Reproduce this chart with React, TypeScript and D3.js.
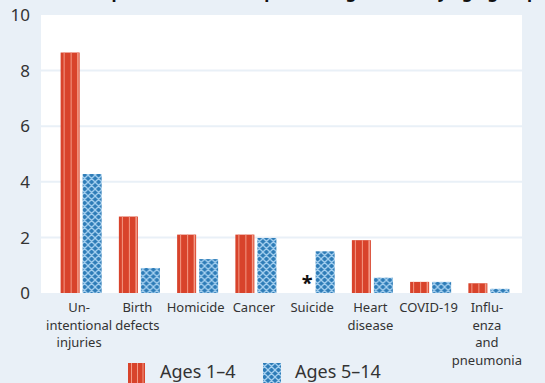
import React, { useEffect, useRef } from 'react';
import * as d3 from 'd3';

// categories, wrapped label lines
const categories = ['Unintentional injuries', 'Birth defects', 'Homicide', 'Cancer', 'Suicide', 'Heart disease', 'COVID-19', 'Influenza and pneumonia'];
const labelLines = [
  ['Un-', 'intentional', 'injuries'],
  ['Birth', 'defects'],
  ['Homicide'],
  ['Cancer'],
  ['Suicide'],
  ['Heart', 'disease'],
  ['COVID-19'],
  ['Influ-', 'enza', 'and', 'pneumonia'],
];
// null = rate not shown (*)
const ages1to4: (number | null)[] = [8.65, 2.75, 2.1, 2.1, null, 1.9, 0.4, 0.35];
const ages5to14: number[] = [4.28, 0.9, 1.22, 1.98, 1.5, 0.55, 0.4, 0.15];
const yTicks = [0, 2, 4, 6, 8, 10];
const seriesNames = ['Ages 1\u20134', 'Ages 5\u201314'];

const W = 545;
const H = 383;
const BG = '#e9f0f7';
const RED = '#d8432b';
const RED_STRIPE = '#f39a86';
const BLUE = '#2e7cb7';
const BLUE_LINE = '#a5d0f0';
const FONT = "'Noto Sans', sans-serif";

const App: React.FC = () => {
  const svgRef = useRef<SVGSVGElement>(null);

  useEffect(() => {
    if (!svgRef.current) return;
    const svg = d3.select(svgRef.current);
    svg.selectAll('*').remove();

    const plot = { left: 41, right: 522, top: 15, bottom: 293 };

    const x = d3.scaleBand<string>().domain(categories).range([52, 518]);
    const y = d3.scaleLinear().domain([0, 10]).range([plot.bottom, plot.top]);
    const barW = 19;
    const gap = 3;

    // crosshatch pattern
    const defs = svg.append('defs');
    const pat = defs.append('pattern')
      .attr('id', 'xhatch')
      .attr('patternUnits', 'userSpaceOnUse')
      .attr('width', 7)
      .attr('height', 7);
    pat.append('rect').attr('width', 7).attr('height', 7).attr('fill', BLUE);
    pat.append('path')
      .attr('d', 'M0,0 L7,7 M7,0 L0,7 M-1,6 L1,8 M6,-1 L8,1 M6,8 L8,6 M-1,1 L1,-1')
      .attr('stroke', BLUE_LINE)
      .attr('stroke-width', 1.3);

    svg.append('rect').attr('width', W).attr('height', H).attr('fill', BG);

    // title, cut off by the top edge as in the source
    svg.append('text')
      .attr('x', 8)
      .attr('y', -2)
      .style('font-family', FONT)
      .style('font-weight', 700)
      .style('font-size', '17px')
      .attr('fill', '#111')
      .text('Death rates per 100,000, for top 8 leading causes, by age group');

    svg.append('rect')
      .attr('x', plot.left)
      .attr('y', plot.top)
      .attr('width', plot.right - plot.left)
      .attr('height', plot.bottom - plot.top)
      .attr('fill', '#fff');

    // gridlines
    svg.append('g')
      .selectAll('line')
      .data(yTicks.filter(t => t > 0 && t < 10))
      .join('line')
      .attr('x1', plot.left)
      .attr('x2', plot.right)
      .attr('y1', d => y(d))
      .attr('y2', d => y(d))
      .attr('stroke', BG)
      .attr('stroke-width', 2);

    // y tick labels
    svg.append('g')
      .selectAll('text')
      .data(yTicks)
      .join('text')
      .attr('x', 30)
      .attr('y', d => y(d))
      .attr('dy', '0.36em')
      .attr('text-anchor', 'end')
      .style('font-family', FONT)
      .style('font-size', '17px')
      .attr('fill', '#333')
      .text(d => d);

    const groups = svg.append('g')
      .selectAll('g')
      .data(categories)
      .join('g')
      .attr('transform', d => `translate(${x(d)! + x.bandwidth() / 2},0)`);

    // red bars with stripes, blue crosshatched bars, labels
    groups.each(function (_, i) {
      const g = d3.select(this);
      const v = ages1to4[i];
      const x0 = -barW - gap / 2;
      if (v == null) {
        g.append('text')
          .attr('x', x0 + barW / 2 + 4)
          .attr('y', y(0) - 3)
          .attr('text-anchor', 'middle')
          .style('font-family', FONT)
          .style('font-weight', 700)
          .style('font-size', '20px')
          .attr('fill', '#111')
          .text('*');
      } else {
        g.append('rect')
          .attr('x', x0)
          .attr('y', y(v))
          .attr('width', barW)
          .attr('height', y(0) - y(v))
          .attr('fill', RED);
        [3, 10, 16.5].forEach(o => {
          g.append('rect')
            .attr('x', x0 + o)
            .attr('y', y(v))
            .attr('width', o > 16 ? 1.6 : 1)
            .attr('height', y(0) - y(v))
            .attr('fill', RED_STRIPE);
        });
      }
      const b = ages5to14[i];
      g.append('rect')
        .attr('x', gap / 2)
        .attr('y', y(b))
        .attr('width', barW)
        .attr('height', y(0) - y(b))
        .attr('fill', 'url(#xhatch)');

      const t = g.append('text')
        .attr('text-anchor', 'middle')
        .style('font-family', FONT)
        .style('font-size', '13px')
        .attr('fill', '#333');
      labelLines[i].forEach((line, k) => {
        t.append('tspan')
          .attr('x', -2)
          .attr('y', 312 + k * 17.6)
          .text(line);
      });
    });

    // legend
    const legend = svg.append('g').attr('transform', 'translate(128,363)');
    const lg1 = legend.append('g');
    lg1.append('rect').attr('width', 17).attr('height', 20).attr('fill', RED);
    [3, 9, 14.5].forEach(o => {
      lg1.append('rect').attr('x', o).attr('width', 1).attr('height', 20).attr('fill', RED_STRIPE);
    });
    legend.append('text')
      .attr('x', 32)
      .attr('y', 15)
      .style('font-family', FONT)
      .style('font-size', '18px')
      .attr('fill', '#333')
      .text(seriesNames[0]);
    legend.append('rect')
      .attr('x', 135)
      .attr('width', 18)
      .attr('height', 20)
      .attr('fill', 'url(#xhatch)');
    legend.append('text')
      .attr('x', 167)
      .attr('y', 15)
      .style('font-family', FONT)
      .style('font-size', '18px')
      .attr('fill', '#333')
      .text(seriesNames[1]);
  }, []);

  return (
    <svg
      ref={svgRef}
      width={W}
      height={H}
      style={{ position: 'absolute', left: 0, top: 0, display: 'block' }}
    />
  );
};

export default App;
